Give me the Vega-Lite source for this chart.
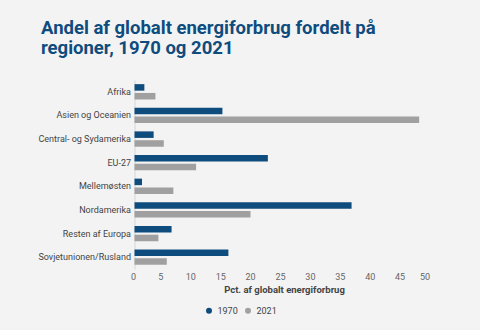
{
  "$schema": "https://vega.github.io/schema/vega-lite/v6.json",
  "width": 299,
  "height": 189,
  "autosize": {"type": "none"},
  "padding": {"left": 134.5, "top": 80, "right": 46.5, "bottom": 61},
  "background": "#f3f3f3",
  "title": {
    "text": ["Andel af globalt energiforbrug fordelt på", "regioner, 1970 og 2021"],
    "anchor": "start",
    "frame": "group",
    "dx": -93.5,
    "offset": 23,
    "font": "Roboto",
    "fontSize": 18.5,
    "fontWeight": "bold",
    "color": "#0f4c7e",
    "lineHeight": 20
  },
  "data": {
    "values": [
      {"region": "Afrika", "year": "1970", "pct": 1.65},
      {"region": "Afrika", "year": "2021", "pct": 3.5},
      {"region": "Asien og Oceanien", "year": "1970", "pct": 14.7},
      {"region": "Asien og Oceanien", "year": "2021", "pct": 47.6},
      {"region": "Central- og Sydamerika", "year": "1970", "pct": 3.2},
      {"region": "Central- og Sydamerika", "year": "2021", "pct": 4.9},
      {"region": "EU-27", "year": "1970", "pct": 22.3},
      {"region": "EU-27", "year": "2021", "pct": 10.3},
      {"region": "Mellemøsten", "year": "1970", "pct": 1.25},
      {"region": "Mellemøsten", "year": "2021", "pct": 6.5},
      {"region": "Nordamerika", "year": "1970", "pct": 36.3},
      {"region": "Nordamerika", "year": "2021", "pct": 19.4},
      {"region": "Resten af Europa", "year": "1970", "pct": 6.2},
      {"region": "Resten af Europa", "year": "2021", "pct": 4.0},
      {"region": "Sovjetunionen/Rusland", "year": "1970", "pct": 15.7},
      {"region": "Sovjetunionen/Rusland", "year": "2021", "pct": 5.4}
    ]
  },
  "mark": {"type": "bar"},
  "encoding": {
    "y": {
      "field": "region",
      "type": "nominal",
      "sort": null,
      "scale": {"paddingInner": 0.35, "paddingOuter": 0.175},
      "axis": {
        "title": null,
        "ticks": false,
        "domain": true,
        "domainColor": "#d6d6d6",
        "labelFont": "Roboto",
        "labelFontSize": 9,
        "labelColor": "#444444",
        "labelPadding": 4,
        "grid": false
      }
    },
    "yOffset": {
      "field": "year",
      "type": "nominal",
      "scale": {"paddingInner": 0.26}
    },
    "x": {
      "field": "pct",
      "type": "quantitative",
      "scale": {"domain": [0, 50], "nice": false},
      "axis": {
        "title": "Pct. af globalt energiforbrug",
        "titleFont": "Roboto",
        "titleFontSize": 9.5,
        "titleFontWeight": "bold",
        "titleColor": "#444444",
        "titlePadding": 3,
        "values": [0, 5, 10, 15, 20, 25, 30, 35, 40, 45, 50],
        "labelFont": "Roboto",
        "labelFontSize": 9,
        "labelColor": "#666666",
        "labelOffset": -4,
        "labelPadding": 3,
        "domain": false,
        "ticks": false,
        "grid": false
      }
    },
    "color": {
      "field": "year",
      "type": "nominal",
      "scale": {"domain": ["1970", "2021"], "range": ["#0f4c7e", "#a0a0a0"]},
      "legend": {
        "title": null,
        "orient": "none",
        "direction": "horizontal",
        "legendX": 70,
        "legendY": 226,
        "symbolType": "circle",
        "symbolSize": 36,
        "labelFont": "Roboto",
        "labelFontSize": 9,
        "labelColor": "#444444",
        "labelOffset": 4,
        "columnPadding": 5
      }
    }
  },
  "config": {"view": {"stroke": null}}
}
